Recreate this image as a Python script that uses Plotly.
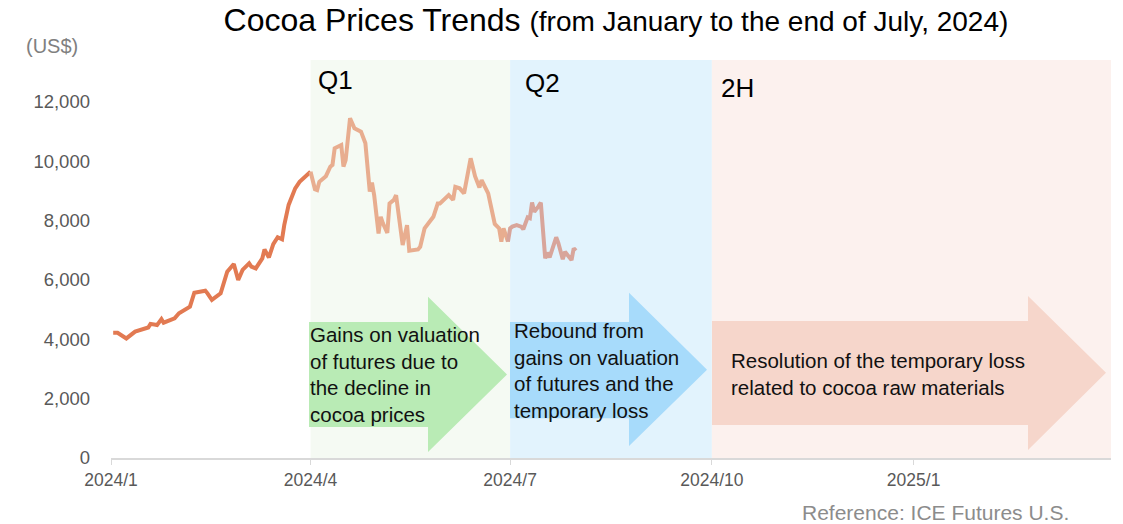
import plotly.graph_objects as go

# ---------------- data ----------------
q1_dates = ["2024-01-02", "2024-01-04", "2024-01-08", "2024-01-12", "2024-01-18", "2024-01-19",
            "2024-01-22", "2024-01-24", "2024-01-25", "2024-01-30", "2024-02-01", "2024-02-06",
            "2024-02-08", "2024-02-10", "2024-02-13", "2024-02-14", "2024-02-16", "2024-02-20",
            "2024-02-21", "2024-02-23", "2024-02-26", "2024-02-28", "2024-03-01", "2024-03-04",
            "2024-03-05", "2024-03-07", "2024-03-10", "2024-03-11", "2024-03-13", "2024-03-15",
            "2024-03-17", "2024-03-19", "2024-03-20", "2024-03-22", "2024-03-25", "2024-03-27",
            "2024-04-01"]
q1_prices = [4220, 4220, 4030, 4260, 4400, 4520,
             4480, 4680, 4560, 4710, 4880, 5100,
             5570, 5600, 5640, 5550, 5330, 5550,
             5830, 6280, 6540, 6000, 6340, 6560,
             6450, 6390, 6730, 7030, 6760, 7210,
             7440, 7370, 7850, 8530, 9090, 9310,
             9650]

q2_dates = ["2024-04-01", "2024-04-03", "2024-04-04", "2024-04-05", "2024-04-08", "2024-04-10",
            "2024-04-11", "2024-04-12", "2024-04-15", "2024-04-16", "2024-04-17", "2024-04-19",
            "2024-04-21", "2024-04-24", "2024-04-26", "2024-04-28", "2024-04-29", "2024-04-30",
            "2024-05-02", "2024-05-03", "2024-05-04", "2024-05-06", "2024-05-07", "2024-05-09",
            "2024-05-10", "2024-05-12", "2024-05-13", "2024-05-15", "2024-05-16", "2024-05-20",
            "2024-05-21", "2024-05-23", "2024-05-27", "2024-05-29", "2024-05-30", "2024-06-03",
            "2024-06-05", "2024-06-06", "2024-06-08", "2024-06-10", "2024-06-13", "2024-06-15",
            "2024-06-17", "2024-06-18", "2024-06-21", "2024-06-24", "2024-06-26", "2024-06-27",
            "2024-06-28", "2024-06-30"]
q2_prices = [9650, 9060, 9030, 9310, 9500, 9820,
             9880, 10440, 10550, 9820, 10040, 11450,
             11110, 11000, 10610, 8980, 9280, 8860,
             7570, 8130, 7910, 7590, 8580, 8700,
             8860, 7800, 7180, 7850, 6990, 7030,
             7120, 7740, 8130, 8580, 8580, 8860,
             8700, 9140, 9090, 8920, 10100, 9500,
             9120, 9370, 8920, 7890, 7740, 7290,
             7740, 7290]

jul_dates = ["2024-06-30", "2024-07-01", "2024-07-02", "2024-07-04", "2024-07-06", "2024-07-07",
             "2024-07-09", "2024-07-10", "2024-07-11", "2024-07-12", "2024-07-14", "2024-07-15",
             "2024-07-17", "2024-07-18", "2024-07-19", "2024-07-22", "2024-07-23", "2024-07-25",
             "2024-07-26", "2024-07-27", "2024-07-29", "2024-07-30", "2024-07-31"]
jul_prices = [7290, 7740, 7800, 7850, 7800, 7710,
              8110, 8080, 8610, 8300, 8490, 8610,
              6730, 6920, 6760, 7440, 7240, 6700,
              6950, 6840, 6670, 7070, 6990]

tick_dates = ["2024-01-01", "2024-04-01", "2024-07-01", "2024-10-01", "2025-01-01"]
tick_labels = ["2024/1", "2024/4", "2024/7", "2024/10", "2025/1"]
y_ticks = [0, 2000, 4000, 6000, 8000, 10000, 12000]

periods = ["Q1", "Q2", "2H"]
period_starts = ["2024-04-01", "2024-07-01", "2024-10-01"]
period_ends = ["2024-07-01", "2024-10-01", "2025-04-01"]

arrow_texts = [
    "Gains on valuation<br>of futures due to<br>the decline in<br>cocoa prices",
    "Rebound from<br>gains on valuation<br>of futures and the<br>temporary loss",
    "Resolution of the temporary loss<br>related to cocoa raw materials",
]

# ---------------- style ----------------
FONT = "Liberation Sans, Arial, sans-serif"
band_colors = ["#F5FAF3", "#E2F3FD", "#FCF1EE"]
arrow_colors = ["#B9EBB5", "#A7DBFB", "#F6D6CB"]
line_colors = ["#E27A52", "#E8AD8F", "#D8A59B"]

fig = go.Figure()
for d, p, c in [(q1_dates, q1_prices, line_colors[0]),
                (q2_dates, q2_prices, line_colors[1]),
                (jul_dates, jul_prices, line_colors[2])]:
    fig.add_trace(go.Scatter(x=d, y=p, mode="lines",
                             line=dict(color=c, width=4, shape="linear"),
                             showlegend=False, hoverinfo="skip"))

shapes = []
for s, e, c in zip(period_starts, period_ends, band_colors):
    shapes.append(dict(type="rect", xref="x", yref="paper", x0=s, x1=e, y0=0, y1=1,
                       fillcolor=c, line=dict(width=0), layer="below"))

# arrows (paper coordinates): body x0, body x1, tip x, body y0, body y1, head y0, head y1, tip y
arrow_geom = [
    (0.198, 0.317, 0.396, 0.078, 0.342, 0.015, 0.405, 0.210),
    (0.399, 0.518, 0.596, 0.100, 0.342, 0.030, 0.415, 0.222),
    (0.601, 0.917, 0.995, 0.083, 0.344, 0.020, 0.407, 0.214),
]
for (bx0, bx1, tx, by0, by1, hy0, hy1, ty), c in zip(arrow_geom, arrow_colors):
    path = (f"M {bx0},{by0} L {bx1},{by0} L {bx1},{hy0} L {tx},{ty} "
            f"L {bx1},{hy1} L {bx1},{by1} L {bx0},{by1} Z")
    shapes.append(dict(type="path", xref="paper", yref="paper", path=path,
                       fillcolor=c, line=dict(width=0), layer="below"))

annotations = []
# period labels
for lab, x, y in zip(periods, [0.205, 0.412, 0.608], [0.950, 0.942, 0.930]):
    annotations.append(dict(text=lab, xref="paper", yref="paper", x=x, y=y,
                            xanchor="left", yanchor="middle", showarrow=False,
                            font=dict(family=FONT, size=26, color="#000000")))
# arrow texts
for t, x, y in zip(arrow_texts, [0.197, 0.401, 0.618], [0.211, 0.219, 0.212]):
    annotations.append(dict(text=t, xref="paper", yref="paper", x=x, y=y,
                            xanchor="left", yanchor="middle", align="left", showarrow=False,
                            font=dict(family=FONT, size=20.5, color="#111111")))
# unit label
annotations.append(dict(text="(US$)", xref="paper", yref="paper", x=-0.0595, y=1.0355,
                        xanchor="center", yanchor="middle", showarrow=False,
                        font=dict(family=FONT, size=20, color="#808080")))
# source
annotations.append(dict(text="Reference: ICE Futures U.S.", xref="paper", yref="paper",
                        x=0.960, y=-0.136, xanchor="right", yanchor="middle", showarrow=False,
                        font=dict(family=FONT, size=21, color="#8C8C8C")))

fig.update_layout(
    width=1123, height=524,
    margin=dict(l=111, r=12, t=60, b=66),
    paper_bgcolor="white", plot_bgcolor="white",
    title=dict(text="Cocoa Prices Trends <span style='font-size:28px'>(from January to the end of July, 2024)</span>",
               x=0.5485, xref="container", xanchor="center",
               y=0.962, yref="container", yanchor="middle",
               font=dict(family=FONT, size=32, color="#000000")),
    shapes=shapes,
    annotations=annotations,
    xaxis=dict(type="date", range=["2024-01-01", "2025-04-01"],
               tickvals=tick_dates, ticktext=tick_labels,
               showgrid=False, zeroline=False,
               showline=True, linecolor="#D9D9D9", linewidth=2,
               ticks="outside", ticklen=5, tickcolor="#D9D9D9", tickwidth=1,
               ticklabelstandoff=0,
               tickfont=dict(family=FONT, size=17.5, color="#595959")),
    yaxis=dict(range=[0, 13415], tickvals=y_ticks, tickformat=",",
               showgrid=False, zeroline=False, showline=False,
               ticks="", ticklabelstandoff=20,
               tickfont=dict(family=FONT, size=18.5, color="#595959")),
)

fig.write_html("out.html", config={"displayModeBar": False},
               post_script="document.body.style.margin='0px';")
